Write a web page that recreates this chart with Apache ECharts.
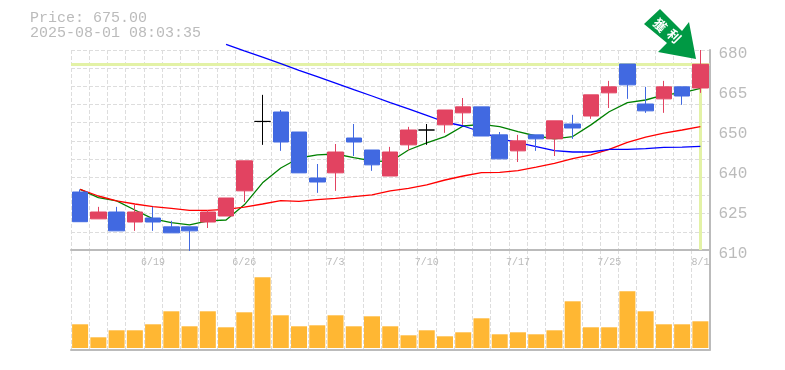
<!DOCTYPE html>
<html>
<head>
<meta charset="utf-8">
<style>
  html, body { margin: 0; padding: 0; background: #fff; }
  #chart { width: 785px; height: 370px; }
</style>
<script src="https://cdn.jsdelivr.net/npm/echarts@6/dist/echarts.min.js"></script>
</head>
<body>
<div id="chart"></div>
<script>
const dates = ['6/13','6/16','6/17','6/18','6/19','6/20','6/23','6/24','6/25','6/26','6/27','6/30','7/1','7/2','7/3','7/4','7/7','7/8','7/9','7/10','7/11','7/14','7/15','7/16','7/17','7/18','7/22','7/23','7/24','7/25','7/28','7/29','7/30','7/31','8/1']
const opens = [630.3,620.9,623.3,619.8,621.2,618.1,618.1,619.8,621.9,630.7,655,658.3,651.3,635.2,637,649.2,645,635.9,646.8,652,653.8,658,660.1,650.3,644.7,650.3,648.9,654.1,656.9,665,675.1,661.1,662.9,667.1,666.7]
const closes = [619.9,623.3,616.7,623.3,619.8,616,616.7,623.3,628.2,641.2,655,647.8,637,633.8,644.3,647.8,639.8,644.3,652,652,659,660.1,649.9,641.9,648.2,648.9,655.2,652.7,664.3,667.1,667.8,658.7,667.1,663.9,675]
const lows = [619.9,620.9,616.7,616.7,616.7,616,609.7,617.7,621.9,626.8,646.8,644.7,637,630,630.7,642.9,637.7,635.9,644.7,646.8,651,653.8,649.9,641.9,640.8,644.7,642.9,648.9,655.9,659.7,662.9,658,658,660.8,665]
const highs = [631.2,625.1,625.1,625.8,625.1,620.2,618.1,624,628.2,641.2,664.3,659,651.3,640.1,647.1,654.1,645,646.1,653.1,654.1,659,663.2,660.1,651.3,650.3,650.3,655.2,657.3,664.3,669.2,675.1,667.1,669.2,667.1,680]
const ma5 = [631.2,628.3,627.2,624,620.9,619.6,618.8,620.2,620.5,625.8,633.5,638.7,642.2,643.3,643.6,642.3,641.2,640.9,645,647.5,649.7,653.4,654,653.2,651.4,649.9,648.9,649.7,653.8,658.4,661.6,662.5,664.3,665,666.6]
const ma25 = [631.2,628.9,627.2,626.1,625.2,624.6,623.9,623.9,624.2,625,626.1,627.3,627,627.6,628.1,628.7,629.3,630.7,631.6,632.8,634.5,635.9,637.1,637.2,637.8,639,640.3,642,643.3,645.2,647.7,649.5,650.9,652,653.2]
const ma75 = [null,null,null,null,null,null,null,null,682,679.7,677.5,675.2,672.9,670.7,668.4,666.1,663.9,661.6,659.4,657.1,654.8,653.4,651.3,649,647.6,646.2,644.8,644.3,644.3,645.2,645.2,645.5,645.9,646,646.3]
const volumes = [23.7,10.7,17.7,17.7,23.7,36.7,21.7,36.7,20.7,35.7,70.7,32.7,21.7,22.7,32.7,21.7,31.7,21.7,12.7,17.7,11.7,15.7,29.7,13.7,15.7,13.7,17.7,46.7,20.7,20.7,56.7,36.7,23.7,23.7,26.7]
const priceTicks = [610,624,638,652,666,680]
const lastPrice = 675

const GREY = '#bbbbbb'
const GRID_LINE = '#dddddd'
const MONO = '"Liberation Mono", monospace'

const chart = echarts.init(document.getElementById('chart'), null, { renderer: 'canvas' })

const xBase = {
  type: 'category',
  data: dates,
  boundaryGap: true,
  axisTick: { show: false },
  axisLine: { onZero: false, lineStyle: { color: GREY, width: 2 } },
  splitLine: { show: true, interval: 0, lineStyle: { color: GRID_LINE, type: 'dashed' } },
}

const lineSeries = (name, data, color) => ({
  name,
  type: 'line',
  data,
  symbol: 'none',
  clip: false,
  z: 2,
  lineStyle: { color, width: 1.3 },
})

const arrowText = (text, x, y) => ({
  type: 'text',
  z: 11,
  x,
  y,
  rotation: -Math.PI / 4,
  style: {
    text,
    fill: '#ffffff',
    font: 'bold 13px "Noto Sans CJK TC"',
    align: 'center',
    verticalAlign: 'middle',
  },
})

chart.setOption({
  animation: false,
  backgroundColor: '#fff',
  title: {
    text: 'Price: 675.00\n2025-08-01 08:03:35',
    left: 30,
    top: 11,
    padding: 0,
    textStyle: { color: GREY, fontFamily: MONO, fontSize: 15, fontWeight: 'normal', lineHeight: 15 },
  },
  grid: [
    { left: 71, right: 75.5, top: 50, height: 200 },
    { left: 71, right: 75.5, top: 250, height: 100 },
  ],
  xAxis: [
    {
      ...xBase,
      gridIndex: 0,
      axisLabel: {
        color: GREY,
        fontFamily: MONO,
        fontSize: 10,
        margin: 7,
        interval: (i) => i % 5 === 4,
      },
    },
    { ...xBase, gridIndex: 1, axisLabel: { show: false } },
  ],
  yAxis: [
    {
      type: 'value',
      gridIndex: 0,
      position: 'right',
      min: 610,
      max: 680,
      axisTick: { show: false },
      axisLine: { show: true, lineStyle: { color: GREY, width: 2 } },
      splitLine: { show: false },
      axisLabel: {
        customValues: priceTicks,
        color: GREY,
        fontFamily: MONO,
        fontSize: 16,
        margin: 9,
        verticalAlign: 'top',
        lineHeight: 8,
        formatter: (v) => String(Math.round(v / 5) * 5),
      },
    },
    {
      // only there for the dashed horizontal grid, 11 rows
      type: 'value',
      gridIndex: 0,
      position: 'right',
      min: 0,
      max: 11,
      interval: 1,
      axisLabel: { show: false },
      axisTick: { show: false },
      axisLine: { show: false },
      splitLine: { show: true, lineStyle: { color: GRID_LINE, type: 'dashed' } },
    },
    {
      type: 'value',
      gridIndex: 1,
      position: 'right',
      min: -2,
      max: 98,
      axisLabel: { show: false },
      axisTick: { show: false },
      axisLine: { show: true, lineStyle: { color: GREY, width: 2 } },
      splitLine: { show: false },
    },
  ],
  series: [
    {
      name: 'last',
      type: 'line',
      data: [],
      z: 1,
      markLine: {
        silent: true,
        symbol: 'none',
        label: { show: false },
        z: 1,
        lineStyle: { color: '#e3f2a6', width: 3, type: 'solid' },
        data: [
          { yAxis: lastPrice },
          [{ coord: [dates[dates.length - 1], lastPrice] }, { coord: [dates[dates.length - 1], priceTicks[0]] }],
        ],
      },
    },
    {
      name: 'price',
      type: 'candlestick',
      data: dates.map((_, i) => [opens[i], closes[i], lows[i], highs[i]]),
      barWidth: 16,
      z: 3,
      clip: false,
      itemStyle: {
        color: '#e24361',
        color0: '#4169e1',
        borderColor: '#e24361',
        borderColor0: '#4169e1',
        borderColorDoji: '#000000',
        borderWidth: 1,
      },
    },
    lineSeries('MA5', ma5, '#008000'),
    lineSeries('MA25', ma25, '#ff0000'),
    lineSeries('MA75', ma75, '#0000ff'),
    {
      name: 'volume',
      type: 'bar',
      xAxisIndex: 1,
      yAxisIndex: 2,
      data: volumes,
      barWidth: 16,
      itemStyle: { color: '#ffb733' },
    },
  ],
  graphic: [
    {
      type: 'polygon',
      z: 10,
      shape: { points: [[644, 24], [660, 9], [682, 31], [689, 22], [696, 59], [658, 52], [667, 43]] },
      style: { fill: '#009944' },
    },
    arrowText('獲', 660, 25),
    arrowText('利', 674, 36),
  ],
})

window.addEventListener('resize', () => chart.resize())
</script>
</body>
</html>
